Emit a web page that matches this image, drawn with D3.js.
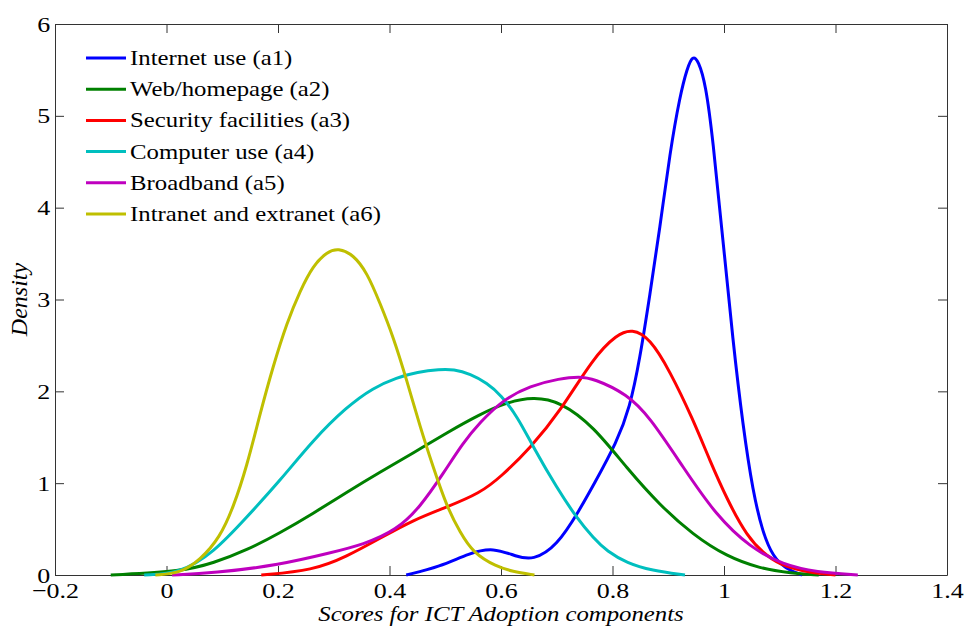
<!DOCTYPE html>
<html>
<head>
<meta charset="utf-8">
<script src="https://cdn.jsdelivr.net/npm/d3@7"></script>
<style>
  body { margin: 0; background: #fff; }
  svg { display: block; }
  text { font-family: "Liberation Serif", "Times New Roman", serif; }
</style>
</head>
<body>
<div id="main"></div>
<script>
// tick values
const xTicks = [-0.2, 0, 0.2, 0.4, 0.6, 0.8, 1, 1.2, 1.4];
const yTicks = [0, 1, 2, 3, 4, 5, 6];

const seriesNames = [
  "Internet use (a1)",
  "Web/homepage (a2)",
  "Security facilities (a3)",
  "Computer use (a4)",
  "Broadband (a5)",
  "Intranet and extranet (a6)"
];
const seriesColors = ["#0000ff", "#008000", "#ff0000", "#00bfbf", "#bf00bf", "#bfbf00"];

// density curves
const a1X = [0.43, 0.49, 0.544, 0.586, 0.628, 0.657, 0.70, 0.742, 0.766, 0.808, 0.831, 0.849, 0.867, 0.885, 0.903, 0.921, 0.934, 0.944, 0.954, 0.967, 0.980, 0.998, 1.016, 1.034, 1.052, 1.070, 1.088, 1.11, 1.14];
const a1Y = [0, 0.09, 0.24, 0.3, 0.2, 0.16, 0.31, 0.72, 0.98, 1.45, 1.82, 2.35, 3.05, 3.78, 4.6, 5.22, 5.52, 5.66, 5.6, 5.35, 4.75, 3.65, 2.55, 1.62, 0.9, 0.45, 0.2, 0.07, 0];

const a2X = [-0.1, 0.03, 0.084, 0.144, 0.204, 0.263, 0.323, 0.383, 0.443, 0.503, 0.562, 0.61, 0.658, 0.706, 0.766, 0.826, 0.885, 0.944, 1.005, 1.065, 1.12, 1.17];
const a2Y = [0, 0.04, 0.13, 0.27, 0.46, 0.67, 0.9, 1.12, 1.33, 1.55, 1.75, 1.88, 1.94, 1.89, 1.62, 1.16, 0.76, 0.44, 0.2, 0.07, 0.02, 0];

const a3X = [0.17, 0.263, 0.323, 0.383, 0.443, 0.503, 0.562, 0.60, 0.652, 0.706, 0.766, 0.808, 0.835, 0.867, 0.903, 0.944, 0.975, 1.005, 1.041, 1.077, 1.11, 1.15, 1.2];
const a3Y = [0, 0.05, 0.2, 0.4, 0.6, 0.74, 0.89, 1.07, 1.38, 1.78, 2.37, 2.62, 2.68, 2.58, 2.22, 1.70, 1.24, 0.83, 0.42, 0.2, 0.09, 0.03, 0];

const a4X = [-0.04, 0.024, 0.084, 0.144, 0.204, 0.263, 0.323, 0.371, 0.413, 0.45, 0.49, 0.515, 0.545, 0.575, 0.60, 0.63, 0.658, 0.70, 0.736, 0.766, 0.79, 0.826, 0.87, 0.93];
const a4Y = [0, 0.02, 0.24, 0.63, 1.03, 1.47, 1.83, 2.04, 2.15, 2.21, 2.24, 2.24, 2.19, 2.09, 1.96, 1.72, 1.39, 0.95, 0.62, 0.40, 0.26, 0.13, 0.05, 0];

const a5X = [0.01, 0.084, 0.204, 0.293, 0.353, 0.413, 0.455, 0.497, 0.532, 0.562, 0.604, 0.652, 0.706, 0.74, 0.766, 0.826, 0.867, 0.927, 0.987, 1.047, 1.106, 1.166, 1.24];
const a5Y = [0, 0.02, 0.11, 0.24, 0.33, 0.49, 0.74, 1.11, 1.44, 1.66, 1.91, 2.06, 2.14, 2.16, 2.14, 1.97, 1.72, 1.17, 0.64, 0.3, 0.11, 0.03, 0];

const a6X = [-0.02, 0.024, 0.06, 0.096, 0.12, 0.144, 0.168, 0.191, 0.216, 0.24, 0.263, 0.288, 0.308, 0.335, 0.36, 0.383, 0.407, 0.431, 0.455, 0.478, 0.503, 0.527, 0.55, 0.592, 0.62, 0.66];
const a6Y = [0, 0.02, 0.16, 0.41, 0.74, 1.18, 1.76, 2.27, 2.75, 3.1, 3.37, 3.52, 3.56, 3.49, 3.29, 2.96, 2.59, 2.12, 1.61, 1.18, 0.74, 0.46, 0.24, 0.09, 0.04, 0];

const seriesX = [a1X, a2X, a3X, a4X, a5X, a6X];
const seriesY = [a1Y, a2Y, a3Y, a4Y, a5Y, a6Y];

const series = seriesNames.map((name, i) => ({
  name: name,
  color: seriesColors[i],
  points: seriesX[i].map((x, j) => [x, seriesY[i][j]])
}));

//chart parameters
const width = 964;
const height = 628;
const margin = { top: 24, right: 17, bottom: 53, left: 55 };
const innerWidth = width - margin.left - margin.right;
const innerHeight = height - margin.top - margin.bottom;
const stretch = 1.18; // the reference text is a bit wider than Times
const axisColor = "#333";

const xScale = d3.scaleLinear().domain([-0.2, 1.4]).range([0, innerWidth]);
const yScale = d3.scaleLinear().domain([0, 6]).range([innerHeight, 0]);

const svg = d3.select("#main")
  .append("svg")
  .attr("width", width)
  .attr("height", height);

const g = svg.append("g")
  .attr("transform", `translate(${margin.left}, ${margin.top})`);

const tickFmt = d => d3.format("")(+d.toFixed(1));

// bottom axis with labels
g.append("g")
  .attr("transform", `translate(0, ${innerHeight})`)
  .call(d3.axisBottom(xScale).tickValues(xTicks).tickFormat(tickFmt)
    .tickSizeInner(-9).tickSizeOuter(0).tickPadding(7))
  .call(a => a.selectAll(".tick text")
    .attr("font-size", 22)
    .attr("font-family", "Liberation Serif, serif")
    .attr("fill", "#000")
    .attr("transform", `scale(${stretch},1)`));

// top axis, ticks only
g.append("g")
  .call(d3.axisTop(xScale).tickValues(xTicks).tickFormat("")
    .tickSizeInner(-9).tickSizeOuter(0));

// left axis with labels
g.append("g")
  .call(d3.axisLeft(yScale).tickValues(yTicks).tickFormat(d3.format("d"))
    .tickSizeInner(-9).tickSizeOuter(0).tickPadding(4))
  .call(a => a.selectAll(".tick text")
    .attr("font-size", 22)
    .attr("font-family", "Liberation Serif, serif")
    .attr("fill", "#000")
    .attr("transform", `scale(${stretch},1)`));

// right axis, ticks only
g.append("g")
  .attr("transform", `translate(${innerWidth}, 0)`)
  .call(d3.axisRight(yScale).tickValues(yTicks).tickFormat("")
    .tickSizeInner(-9).tickSizeOuter(0));

g.selectAll(".domain, .tick line").attr("stroke", axisColor);

// density lines
const line = d3.line()
  .x(d => xScale(d[0]))
  .y(d => yScale(d[1]))
  .curve(d3.curveBasis);

g.selectAll("path.density")
  .data(series)
  .enter()
  .append("path")
  .attr("class", "density")
  .attr("fill", "none")
  .attr("stroke", d => d.color)
  .attr("stroke-width", 3)
  .attr("stroke-linejoin", "round")
  .attr("d", d => line(d.points));

// legend, no box
const legend = g.append("g")
  .attr("transform", "translate(31, 34)");

const rows = legend.selectAll("g")
  .data(series)
  .enter()
  .append("g")
  .attr("transform", (d, i) => `translate(0, ${i * 31.2})`);

rows.append("line")
  .attr("x1", 0)
  .attr("x2", 40)
  .attr("stroke", d => d.color)
  .attr("stroke-width", 3);

rows.append("text")
  .attr("transform", `translate(44, 7) scale(${stretch},1)`)
  .attr("font-size", 21)
  .attr("fill", "#000")
  .text(d => d.name);

// axis titles
svg.append("text")
  .attr("transform", `translate(${margin.left + innerWidth / 2}, 621) scale(${stretch},1)`)
  .attr("text-anchor", "middle")
  .attr("font-size", 21)
  .attr("font-style", "italic")
  .text("Scores for ICT Adoption components");

svg.append("text")
  .attr("transform", `translate(27, ${margin.top + innerHeight / 2}) rotate(-90)`)
  .attr("text-anchor", "middle")
  .attr("font-size", 24)
  .attr("font-style", "italic")
  .text("Density");
</script>
</body>
</html>
